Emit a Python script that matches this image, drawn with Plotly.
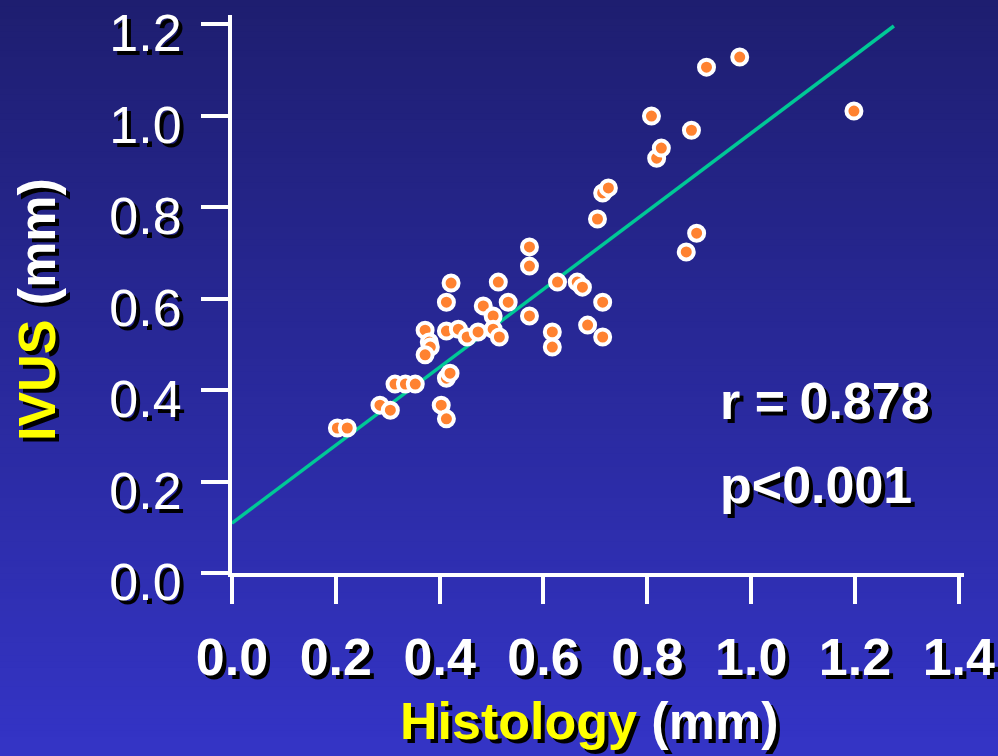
import plotly.graph_objects as go

# ---- data ----
histology = [0.203, 0.222, 0.285, 0.305, 0.314, 0.334, 0.353, 0.403, 0.413, 0.413,
             0.420, 0.372, 0.380, 0.382, 0.372, 0.413, 0.436, 0.453, 0.474, 0.422,
             0.413, 0.484, 0.503, 0.503, 0.515, 0.513, 0.532, 0.573, 0.573, 0.573,
             0.627, 0.665, 0.675, 0.617, 0.617, 0.685, 0.714, 0.714, 0.704, 0.714,
             0.725, 0.808, 0.818, 0.827, 0.885, 0.914, 0.978, 1.198, 0.875, 0.895]
ivus = [0.317, 0.317, 0.367, 0.356, 0.413, 0.413, 0.413, 0.367, 0.337, 0.426,
        0.437, 0.531, 0.505, 0.494, 0.477, 0.529, 0.533, 0.516, 0.527, 0.634,
        0.592, 0.584, 0.562, 0.533, 0.516, 0.636, 0.592, 0.713, 0.671, 0.562,
        0.636, 0.636, 0.625, 0.527, 0.494, 0.542, 0.592, 0.516, 0.774, 0.831,
        0.842, 0.999, 0.907, 0.929, 0.968, 1.106, 1.128, 1.010, 0.702, 0.743]
fit_x = [0.0, 1.275]
fit_y = [0.109, 1.196]
x_ticks = [0.0, 0.2, 0.4, 0.6, 0.8, 1.0, 1.2, 1.4]
y_ticks = [0.0, 0.2, 0.4, 0.6, 0.8, 1.0, 1.2]
x_tick_labels = ["0.0", "0.2", "0.4", "0.6", "0.8", "1.0", "1.2", "1.4"]
y_tick_labels = ["0.0", "0.2", "0.4", "0.6", "0.8", "1.0", "1.2"]
stats_text = ["r = 0.878", "p<0.001"]

W, H = 998, 756
ML, MR, MT, MB = 232, 34, 15, 183
PW, PH = W - ML - MR, H - MT - MB


def px_x(p):
    return (p - ML) / PW


def px_y(p):
    return (H - MB - p) / PH


FONT = "Liberation Sans, Arial, sans-serif"
SHADOW = "4px 4px 0px #000000"

fig = go.Figure()
fig.add_trace(go.Scatter(x=fit_x, y=fit_y, mode="lines",
                         line=dict(color="#00c896", width=3.5),
                         hoverinfo="skip", showlegend=False))
fig.add_trace(go.Scatter(x=histology, y=ivus, mode="markers",
                         marker=dict(size=15, color="#ff8230",
                                     line=dict(color="white", width=4)),
                         showlegend=False))

# background gradient stripes
shapes = []
n = 120
top = (30, 30, 112)
bot = (52, 52, 198)
for i in range(n):
    t = i / (n - 1)
    c = tuple(round(top[k] + (bot[k] - top[k]) * t) for k in range(3))
    p0 = H * i / n
    p1 = H * (i + 1) / n + 1
    shapes.append(dict(type="rect", xref="paper", yref="paper",
                       x0=px_x(-5), x1=px_x(W + 5), y0=px_y(p0), y1=px_y(p1),
                       fillcolor="rgb(%d,%d,%d)" % c, line=dict(width=0),
                       layer="below"))

annotations = [
    dict(text="<b>" + stats_text[0] + "</b>", x=px_x(718), y=px_y(401),
         xref="paper", yref="paper", xanchor="left", yanchor="middle",
         showarrow=False, font=dict(family=FONT, size=52, color="white", shadow=SHADOW)),
    dict(text="<b>" + stats_text[1] + "</b>", x=px_x(718), y=px_y(485),
         xref="paper", yref="paper", xanchor="left", yanchor="middle",
         showarrow=False, font=dict(family=FONT, size=52, color="white", shadow=SHADOW)),
    dict(text="<b><span style='color:#ffff00'>Histology</span> (mm)</b>",
         x=px_x(589), y=px_y(721), xref="paper", yref="paper",
         xanchor="center", yanchor="middle", showarrow=False,
         font=dict(family=FONT, size=52, color="white", shadow=SHADOW)),
    dict(text="<b><span style='color:#ffff00'>IVUS</span> (mm)</b>",
         x=px_x(37), y=px_y(310), xref="paper", yref="paper",
         xanchor="center", yanchor="middle", showarrow=False, textangle=-90,
         font=dict(family=FONT, size=52, color="white", shadow="-4px 4px 0px #000000")),
]

fig.update_layout(
    width=W, height=H,
    margin=dict(l=ML, r=MR, t=MT, b=MB, pad=0, autoexpand=False),
    paper_bgcolor="#2828a0", plot_bgcolor="rgba(0,0,0,0)",
    shapes=shapes, annotations=annotations,
    xaxis=dict(range=[0, 1.41], tickvals=x_ticks, ticktext=x_tick_labels,
               automargin=False, ticklabeloverflow="allow",
               showgrid=False, zeroline=False, showline=True, linecolor="white",
               linewidth=4, ticks="outside", ticklen=27, tickwidth=4,
               tickcolor="white", ticklabelstandoff=9,
               tickfont=dict(family=FONT, size=52, color="white",
                             weight="bold", shadow=SHADOW)),
    yaxis=dict(range=[0, 1.22], tickvals=y_ticks, ticktext=y_tick_labels,
               automargin=False, ticklabeloverflow="allow",
               showgrid=False, zeroline=False, showline=True, linecolor="white",
               linewidth=4, ticks="outside", ticklen=27, tickwidth=4,
               tickcolor="white", ticklabelstandoff=9, ticklabelshift=9,
               tickfont=dict(family=FONT, size=52, color="white", shadow=SHADOW)),
)

fig.write_html("out.html")
